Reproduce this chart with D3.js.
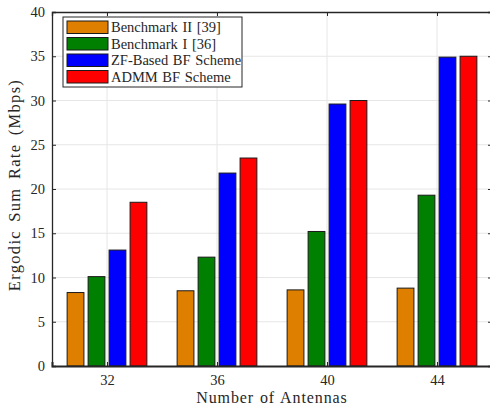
<!DOCTYPE html>
<html>
<head>
<meta charset="utf-8">
<script src="https://cdn.jsdelivr.net/npm/d3@7"></script>
<style>
  body { margin: 0; background: #fff; }
  svg text { font-family: "Liberation Serif", "DejaVu Serif", serif; fill: #262626; }
</style>
</head>
<body>
<div id="chart"></div>
<script>
// chart values
const antennas = [32, 36, 40, 44];
const seriesNames = ["Benchmark II [39]", "Benchmark I [36]", "ZF-Based BF Scheme", "ADMM BF Scheme"];
const seriesColors = ["#df7f00", "#008000", "#0000ff", "#ff0000"];
const benchmark2 = [8.3, 8.5, 8.6, 8.8];
const benchmark1 = [10.1, 12.3, 15.2, 19.3];
const zfScheme = [13.1, 21.8, 29.6, 34.9];
const admmScheme = [18.5, 23.5, 30.0, 35.0];
const yTicks = [0, 5, 10, 15, 20, 25, 30, 35, 40];

const series = [benchmark2, benchmark1, zfScheme, admmScheme];

const width = 490, height = 409;
const margin = { top: 12, right: -2, bottom: 43, left: 52 };

const svg = d3.select("#chart").append("svg")
    .attr("width", width)
    .attr("height", height);

const x = d3.scaleLinear()
    .domain([30, 46])
    .range([margin.left, width - margin.right]);

const y = d3.scaleLinear()
    .domain([0, 40])
    .range([height - margin.bottom, margin.top]);

// bar slots inside one group (in antenna units)
const slot = d3.scaleBand()
    .domain(d3.range(series.length))
    .range([-1.45, 1.45])
    .paddingInner(0.2);

// grid
const grid = svg.append("g").attr("stroke", "#e6e6e6").attr("stroke-width", 1);
grid.selectAll("line.h").data(yTicks.slice(1, -1)).join("line")
    .attr("x1", x(30)).attr("x2", x(46))
    .attr("y1", d => y(d)).attr("y2", d => y(d));
grid.selectAll("line.v").data(antennas).join("line")
    .attr("x1", d => x(d)).attr("x2", d => x(d))
    .attr("y1", y(0)).attr("y2", y(40));

// bars
series.forEach((vals, si) => {
    svg.append("g").selectAll("rect").data(vals).join("rect")
        .attr("x", (d, i) => x(antennas[i] + slot(si)))
        .attr("width", x(slot.bandwidth()) - x(0))
        .attr("y", d => y(d))
        .attr("height", d => y(0) - y(d))
        .attr("fill", seriesColors[si])
        .attr("stroke", "#1a1a1a")
        .attr("stroke-width", 1);
});

// axes (box on, ticks inward)
const axisColor = "#262626";
const axBottom = svg.append("g")
    .attr("transform", `translate(0,${y(0)})`)
    .call(d3.axisBottom(x).tickValues(antennas).tickSize(-4).tickPadding(9));
const axLeft = svg.append("g")
    .attr("transform", `translate(${x(30)},0)`)
    .call(d3.axisLeft(y).tickValues(yTicks).tickSize(-4).tickPadding(7));
const axTop = svg.append("g")
    .attr("transform", `translate(0,${y(40)})`)
    .call(d3.axisTop(x).tickValues(antennas).tickSize(-4).tickFormat(""));
const axRight = svg.append("g")
    .attr("transform", `translate(${x(46)},0)`)
    .call(d3.axisRight(y).tickValues(yTicks).tickSize(-4).tickFormat(""));

[axBottom, axLeft, axTop, axRight].forEach(a => {
    a.select(".domain").attr("stroke", axisColor).attr("stroke-width", 1.3);
    a.selectAll(".tick line").attr("stroke", axisColor);
    a.selectAll(".tick text").style("font-size", "14.5px").attr("fill", axisColor);
});
axBottom.select(".domain").attr("stroke-width", 2);

// axis titles
svg.append("text")
    .attr("x", 272).attr("y", 403)
    .attr("text-anchor", "middle")
    .style("font-size", "16px")
    .style("letter-spacing", "0.9px")
    .style("word-spacing", "1px")
    .text("Number of Antennas");

svg.append("text")
    .attr("transform", `translate(20,185) rotate(-90)`)
    .attr("text-anchor", "middle")
    .style("font-size", "16.5px")
    .style("letter-spacing", "1.3px")
    .style("word-spacing", "3px")
    .text("Ergodic Sum Rate (Mbps)");

// legend
const legend = svg.append("g").attr("transform", "translate(63,17)");
legend.append("rect")
    .attr("width", 179).attr("height", 70)
    .attr("fill", "#fff").attr("stroke", "#262626").attr("stroke-width", 1);
seriesNames.forEach((name, i) => {
    const row = legend.append("g").attr("transform", `translate(4,${4 + i * 16.5})`);
    row.append("rect")
        .attr("width", 41).attr("height", 12.5)
        .attr("fill", seriesColors[i]).attr("stroke", "#1a1a1a");
    row.append("text")
        .attr("x", 44).attr("y", 11)
        .style("font-size", "14.5px")
        .style("word-spacing", "1px")
        .text(name);
});
</script>
</body>
</html>
